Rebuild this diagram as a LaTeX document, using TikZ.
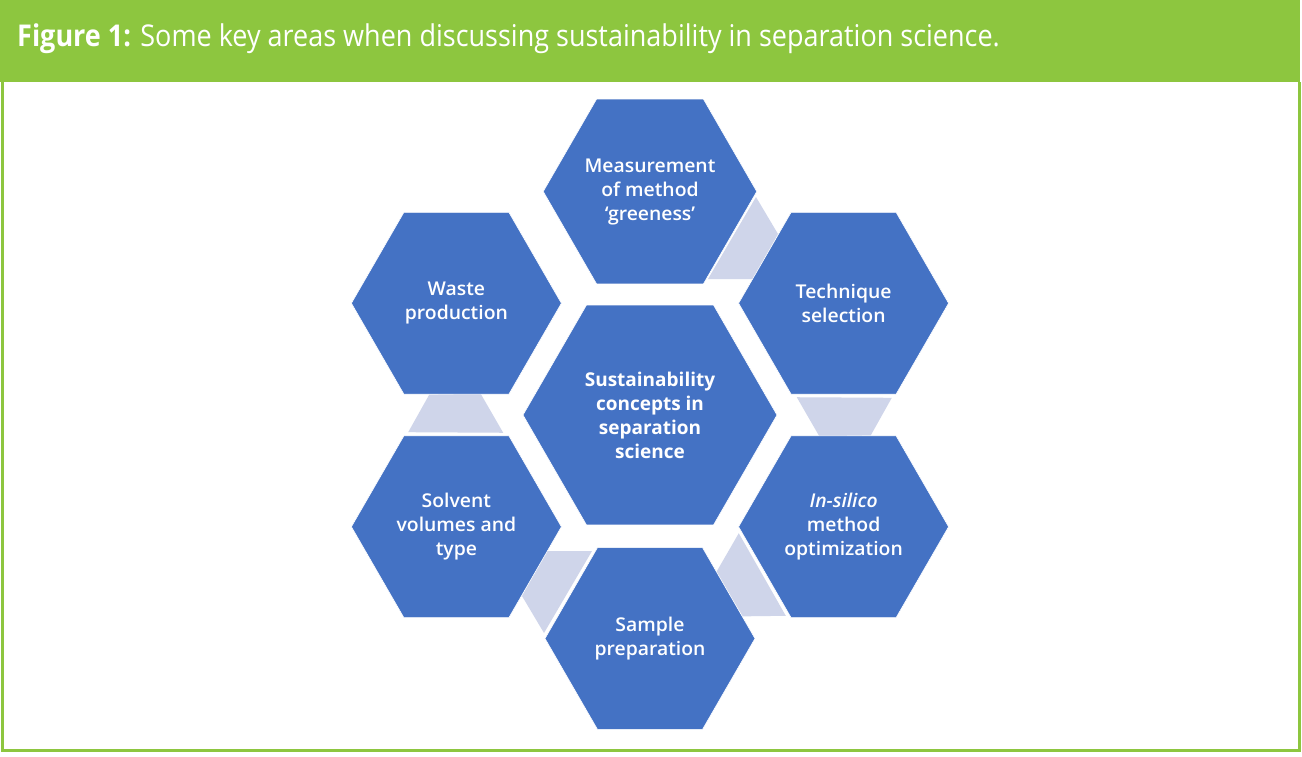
\documentclass[tikz,border=0pt]{standalone}
\usepackage{fontspec}
\setmainfont{Open Sans}
\IfFontExistsTF{Open Sans SemiBold}{\newfontfamily\hexfont[FakeStretch=1.02]{Open Sans SemiBold}}{%
  \IfFontExistsTF{Open Sans Semibold}{\newfontfamily\hexfont[FakeStretch=1.02]{Open Sans Semibold}}{%
    \newfontfamily\hexfont[FakeBold=2,FakeStretch=1.04]{Open Sans}}}
\newfontfamily\hdrfont[FakeStretch=0.9]{Open Sans}
\usetikzlibrary{shapes.geometric}
\definecolor{hdrgreen}{HTML}{8DC63F}
\definecolor{hexblue}{HTML}{4472C4}
\definecolor{lav}{HTML}{CFD5EA}
\begin{document}
\begin{tikzpicture}[x=1pt,y=1pt,
 hexo/.style={regular polygon, regular polygon sides=6, minimum size=210pt, inner sep=0pt, outer sep=0pt,
   fill=hexblue, draw=white, line width=0.6pt, text=white, align=center,
   font=\hexfont\fontsize{19}{24}\selectfont},
 hexc/.style={hexo, minimum size=254pt, font=\bfseries\fontsize{19}{24}\selectfont},
 link/.style={fill=lav}]
\useasboundingbox (-650,-341) rectangle (652,415);
\fill[white] (-650,-341) rectangle (652,415);
\fill[hdrgreen] (-650,333) rectangle (650,415);
\draw[hdrgreen, line width=3pt] (-647,333) -- (-647,-335) -- (649,-335) -- (649,333);
\node[anchor=base west, text=white, font=\hdrfont\fontsize{30}{36}\selectfont, inner sep=0pt] (title) at (-633,368.5)
  {\textbf{Figure 1:} Some key areas when discussing sustainability in separation science.};
\foreach \k in {0,...,4}{
  \fill[link, rotate=-60*\k] (106,218) -- (128,181) -- (103,136) -- (58,136) -- cycle;
}
\node[hexc] (C) at (0,0) {Sustainability\\concepts in\\separation\\science};
\node[hexo] (M) at (0,223.5) {Measurement\\of method\\‘greeness’};
\node[hexo] (T) at (193.6,111.75) {Technique\\selection};
\node[hexo] (I) at (193.6,-111.75) {\textit{In-silico}\\method\\optimization};
\node[hexo] (S) at (0,-223.5) {Sample\\preparation};
\node[hexo] (V) at (-193.6,-111.75) {Solvent\\volumes and\\type};
\node[hexo] (W) at (-193.6,111.75) {Waste\\production};
\end{tikzpicture}
\end{document}
